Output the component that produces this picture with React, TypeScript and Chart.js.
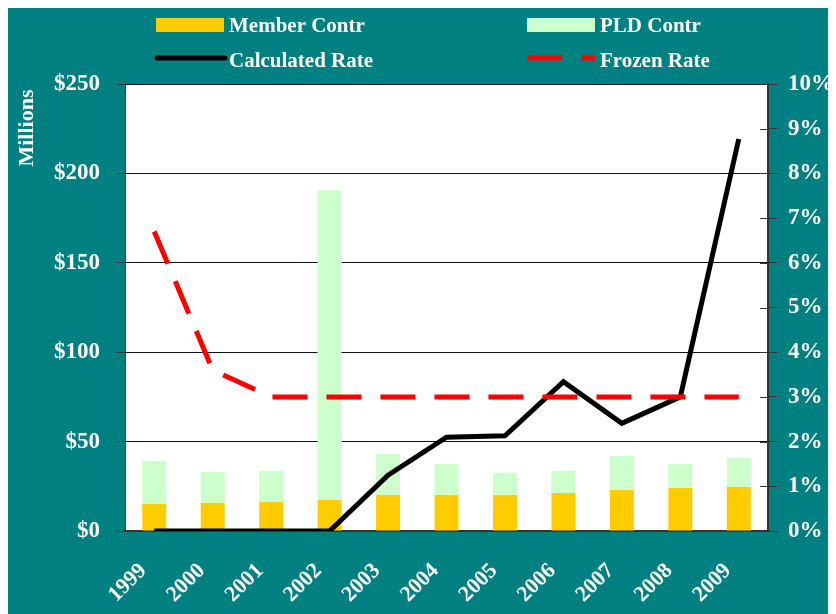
import React, { useEffect, useRef } from "react";
import { Chart, registerables } from "chart.js";

Chart.register(...registerables);

const years = ["1999", "2000", "2001", "2002", "2003", "2004", "2005", "2006", "2007", "2008", "2009"];
const memberContr = [15.1, 15.7, 16.2, 17.4, 20.2, 20.2, 20.2, 21.3, 23.0, 24.1, 24.6];
const pldContr = [24.1, 17.3, 17.4, 173.2, 22.9, 17.3, 12.3, 12.3, 19.0, 13.4, 16.3];
const calculatedRate = [0, 0, 0, 0, 1.25, 2.1, 2.13, 3.34, 2.41, 3.0, 8.77];
const frozenRate = [6.7, 3.6, 3.0, 3.0, 3.0, 3.0, 3.0, 3.0, 3.0, 3.0, 3.0];
const leftTicks = [0, 50, 100, 150, 200, 250];
const rightTicks = [0, 1, 2, 3, 4, 5, 6, 7, 8, 9, 10];

const TEAL = "#008080";
const FONT = '"Liberation Serif", "Times New Roman", serif';

const decorPlugin = {
  id: "decor",
  beforeDraw(chart: any) {
    const { ctx, width, height, chartArea } = chart;
    ctx.save();
    ctx.fillStyle = TEAL;
    ctx.fillRect(0, 0, width, height);
    ctx.fillStyle = "#ffffff";
    ctx.fillRect(chartArea.left, chartArea.top, chartArea.right - chartArea.left, chartArea.bottom - chartArea.top);
    ctx.restore();
  },
  afterDraw(chart: any) {
    const { ctx, chartArea } = chart;
    const ds = chart.data.datasets;
    ctx.save();
    // legend
    ctx.font = `bold 21px ${FONT}`;
    ctx.fillStyle = "#ffffff";
    ctx.textAlign = "left";
    ctx.textBaseline = "alphabetic";
    // row 1
    ctx.fillStyle = ds[0].backgroundColor;
    ctx.fillRect(148, 10, 68, 14);
    ctx.fillStyle = ds[1].backgroundColor;
    ctx.fillRect(519, 10, 68, 14);
    ctx.fillStyle = "#ffffff";
    ctx.fillText(ds[0].label, 221, 24);
    ctx.fillText(ds[1].label, 592, 24);
    // row 2
    ctx.lineWidth = 5;
    ctx.strokeStyle = ds[2].borderColor;
    ctx.lineCap = "round";
    ctx.beginPath();
    ctx.moveTo(149, 50);
    ctx.lineTo(217, 50);
    ctx.stroke();
    ctx.strokeStyle = ds[3].borderColor;
    ctx.lineCap = "butt";
    ctx.setLineDash([35, 19]);
    ctx.beginPath();
    ctx.moveTo(519, 50);
    ctx.lineTo(587, 50);
    ctx.stroke();
    ctx.setLineDash([]);
    ctx.fillStyle = "#ffffff";
    ctx.fillText(ds[2].label, 221, 59);
    ctx.fillText(ds[3].label, 592, 59);
    // y axis title
    ctx.save();
    ctx.translate(19, 120);
    ctx.rotate(-Math.PI / 2);
    ctx.font = `bold 22px ${FONT}`;
    ctx.textAlign = "center";
    ctx.textBaseline = "middle";
    ctx.fillText("Millions", 0, 0);
    ctx.restore();
    // inward ticks on the right axis
    const y1 = chart.scales.y1;
    ctx.strokeStyle = "#333333";
    ctx.lineWidth = 1;
    rightTicks.forEach((t) => {
      const py = Math.round(y1.getPixelForValue(t)) + 0.5;
      ctx.beginPath();
      ctx.moveTo(chartArea.right - 8, py);
      ctx.lineTo(chartArea.right, py);
      ctx.stroke();
    });
    ctx.restore();
  },
};

export default function App() {
  const ref = useRef<HTMLCanvasElement | null>(null);
  useEffect(() => {
    document.documentElement.style.overflow = "hidden";
    document.body.style.overflow = "hidden";
    const canvas = ref.current;
    if (!canvas) return;
    const chart = new Chart(canvas, {
      type: "bar",
      data: {
        labels: years,
        datasets: [
          {
            type: "bar",
            label: "Member Contr",
            data: memberContr,
            backgroundColor: "#FFCC00",
            yAxisID: "y",
            stack: "s",
            order: 2,
            barPercentage: 0.41,
            categoryPercentage: 1,
          },
          {
            type: "bar",
            label: "PLD Contr",
            data: pldContr,
            backgroundColor: "#CCFFCC",
            yAxisID: "y",
            stack: "s",
            order: 2,
            barPercentage: 0.41,
            categoryPercentage: 1,
          },
          {
            type: "line",
            label: "Calculated Rate",
            data: calculatedRate,
            borderColor: "#000000",
            backgroundColor: "#000000",
            borderWidth: 5,
            pointRadius: 0,
            tension: 0,
            yAxisID: "y1",
            order: 1,
            borderJoinStyle: "miter",
          },
          {
            type: "line",
            label: "Frozen Rate",
            data: frozenRate,
            borderColor: "#FF0000",
            backgroundColor: "#FF0000",
            borderWidth: 5,
            borderDash: [35, 19],
            borderCapStyle: "butt",
            pointRadius: 0,
            tension: 0,
            yAxisID: "y1",
            order: 0,
          },
        ],
      },
      options: {
        responsive: false,
        animation: false,
        layout: { padding: { top: 76, left: 0, right: 0, bottom: 0 } },
        plugins: {
          legend: { display: false },
          tooltip: { enabled: false },
        },
        scales: {
          x: {
            stacked: true,
            offset: true,
            grid: { display: false, drawTicks: false },
            border: { display: true, color: "#333333", width: 2 },
            ticks: {
              color: "#ffffff",
              font: { family: FONT, size: 22, weight: "bold" },
              minRotation: 45,
              maxRotation: 45,
              autoSkip: false,
              padding: 27,
              labelOffset: -11,
            },
            afterFit(scale: any) {
              scale.height = 83;
            },
          },
          y: {
            position: "left",
            stacked: true,
            min: 0,
            max: 250,
            afterBuildTicks(scale: any) {
              scale.ticks = leftTicks.map((v) => ({ value: v }));
            },
            grid: { color: "#111111", lineWidth: 1, tickLength: 8, tickColor: "#333333", drawTicks: true },
            border: { display: true, color: "#333333", width: 1 },
            ticks: {
              color: "#ffffff",
              font: { family: FONT, size: 23, weight: "bold" },
              padding: 17,
              callback: (v: any) => "$" + v,
            },
            afterFit(scale: any) {
              scale.width = 117;
            },
          },
          y1: {
            position: "right",
            min: 0,
            max: 10,
            afterBuildTicks(scale: any) {
              scale.ticks = rightTicks.map((v) => ({ value: v }));
            },
            grid: { drawOnChartArea: false, tickLength: 9, tickColor: "#333333", drawTicks: true },
            border: { display: true, color: "#333333", width: 2 },
            ticks: {
              color: "#ffffff",
              font: { family: FONT, size: 23, weight: "bold" },
              padding: 11,
              callback: (v: any) => v + "%",
            },
            afterFit(scale: any) {
              scale.width = 68;
            },
          },
        },
      },
      plugins: [decorPlugin],
    } as any);
    return () => chart.destroy();
  }, []);
  return <canvas ref={ref} width={828} height={606} style={{ display: "block" }} />;
}
